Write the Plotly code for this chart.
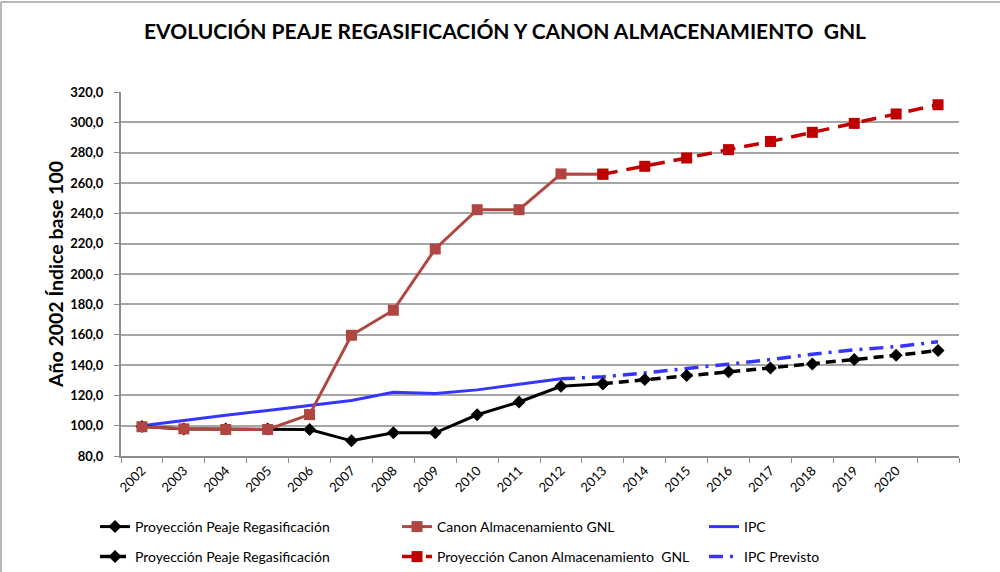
import plotly.graph_objects as go

years = [str(y) for y in range(2002, 2022)]
tick_labels = [str(y) for y in range(2002, 2021)] + [""]

peaje = [99.5, 97.8, 97.8, 97.8, 97.5, 90.0, 95.3, 95.3, 107.2, 115.6, 126.0, 127.6]
peaje_proj = [127.6, 130.4, 133.0, 135.5, 138.1, 140.7, 143.6, 146.4, 149.5]
canon = [99.3, 97.9, 97.5, 97.5, 107.3, 159.6, 176.1, 216.5, 242.4, 242.4, 266.0, 265.8]
canon_proj = [265.8, 271.0, 276.5, 282.0, 287.4, 293.4, 299.3, 305.5, 311.6]
ipc = [100.0, 103.6, 106.9, 110.0, 113.5, 116.6, 122.0, 121.2, 123.6, 127.3, 130.9]
ipc_prev = [130.9, 132.2, 134.8, 137.4, 140.5, 143.6, 147.1, 150.0, 152.1, 155.3]

idx = list(range(len(years)))
FONT = "Lato"
BLUE = "#3535FF"
BROWN = "#B04642"
RED = "#C00000"

fig = go.Figure()

# IPC
fig.add_trace(go.Scatter(x=idx[:len(ipc)], y=ipc, mode="lines", name="IPC",
                         line=dict(color=BLUE, width=3), legend="legend3"))
fig.add_trace(go.Scatter(x=idx[len(ipc) - 1:len(ipc) - 1 + len(ipc_prev)], y=ipc_prev, mode="lines",
                         name="IPC Previsto",
                         line=dict(color=BLUE, width=3.5, dash="14px,7px,3px,7px"),
                         legend="legend6"))
# Peaje
fig.add_trace(go.Scatter(x=idx[:len(peaje)], y=peaje, mode="lines+markers",
                         name="Proyección Peaje Regasificación",
                         line=dict(color="black", width=3),
                         marker=dict(symbol="diamond", size=10, color="black"),
                         legend="legend"))
fig.add_trace(go.Scatter(x=idx[len(peaje) - 1:len(peaje) - 1 + len(peaje_proj)], y=peaje_proj,
                         mode="lines+markers", name="Proyección Peaje Regasificación",
                         line=dict(color="black", width=3.5, dash="10px,6px"),
                         marker=dict(symbol="diamond", size=10, color="black"),
                         legend="legend4"))
# Canon
fig.add_trace(go.Scatter(x=idx[:len(canon)], y=canon, mode="lines+markers",
                         name="Canon Almacenamiento GNL",
                         line=dict(color=BROWN, width=3),
                         marker=dict(symbol="square", size=11, color=BROWN),
                         legend="legend2"))
fig.add_trace(go.Scatter(x=idx[len(canon) - 1:len(canon) - 1 + len(canon_proj)], y=canon_proj,
                         mode="lines+markers", name="Proyección Canon Almacenamiento  GNL",
                         line=dict(color=RED, width=3.5, dash="15px,9px"),
                         marker=dict(symbol="square", size=11, color=RED),
                         legend="legend5"))


def leg(x_text, y_px):
    return dict(orientation="h", xref="container", yref="container",
                x=(x_text - 41) / 1000, y=1 - y_px / 572,
                xanchor="left", yanchor="middle",
                font=dict(family=FONT, size=14, color="black"), bgcolor="rgba(0,0,0,0)")


fig.update_layout(
    width=1000, height=572,
    margin=dict(l=121, r=41, t=92, b=115.5),
    paper_bgcolor="white", plot_bgcolor="white",
    separators=",.",
    title=dict(text="EVOLUCIÓN PEAJE REGASIFICACIÓN Y CANON ALMACENAMIENTO  GNL",
               x=0.505, xanchor="center", xref="container", y=1 - 32 / 572, yanchor="middle",
               font=dict(family=FONT, size=21, color="black", weight="bold")),
    legend=leg(136, 527),
    legend2=leg(438, 527),
    legend3=leg(745, 527),
    legend4=leg(136, 557),
    legend5=leg(438, 557),
    legend6=leg(745, 557),
    xaxis=dict(range=[-0.5, 19.5], tickmode="array", tickvals=idx, ticktext=tick_labels,
               tickangle=-45, ticks="", showgrid=False, zeroline=False,
               showline=True, linecolor="#8C8C8C", linewidth=2,
               tickfont=dict(family=FONT, size=13, color="black"),
               minor=dict(tickmode="array", tickvals=[i - 0.5 for i in range(21)],
                          ticks="outside", ticklen=5, tickcolor="#8C8C8C", tickwidth=1,
                          showgrid=False)),
    yaxis=dict(range=[80, 320], dtick=20, tick0=80, tickformat=".1f",
               showgrid=True, gridcolor="#A6A6A6", gridwidth=1.5, zeroline=False,
               showline=True, linecolor="#8C8C8C", linewidth=2,
               ticks="outside", ticklen=5, tickcolor="#8C8C8C", ticklabelstandoff=8,
               tickfont=dict(family=FONT, size=13, color="black", weight="bold"),
               title=dict(text="Año 2002 Índice base 100", standoff=1,
                          font=dict(family=FONT, size=19.5, color="black", weight="bold"))),
    showlegend=True,
)

# outer frame lines (left and top)
fig.add_shape(type="line", xref="paper", yref="paper",
              x0=(1 - 121) / 838, x1=(1 - 121) / 838, y0=-0.5, y1=(456.5 - 2) / 364.5,
              line=dict(color="#A0A0A0", width=1.5))
fig.add_shape(type="line", xref="paper", yref="paper",
              x0=(1 - 121) / 838, x1=1.1, y0=(456.5 - 2) / 364.5, y1=(456.5 - 2) / 364.5,
              line=dict(color="#A0A0A0", width=1.5))

fig.write_html("out.html", config={"displayModeBar": False},
               post_script="document.body.style.margin='0';")
